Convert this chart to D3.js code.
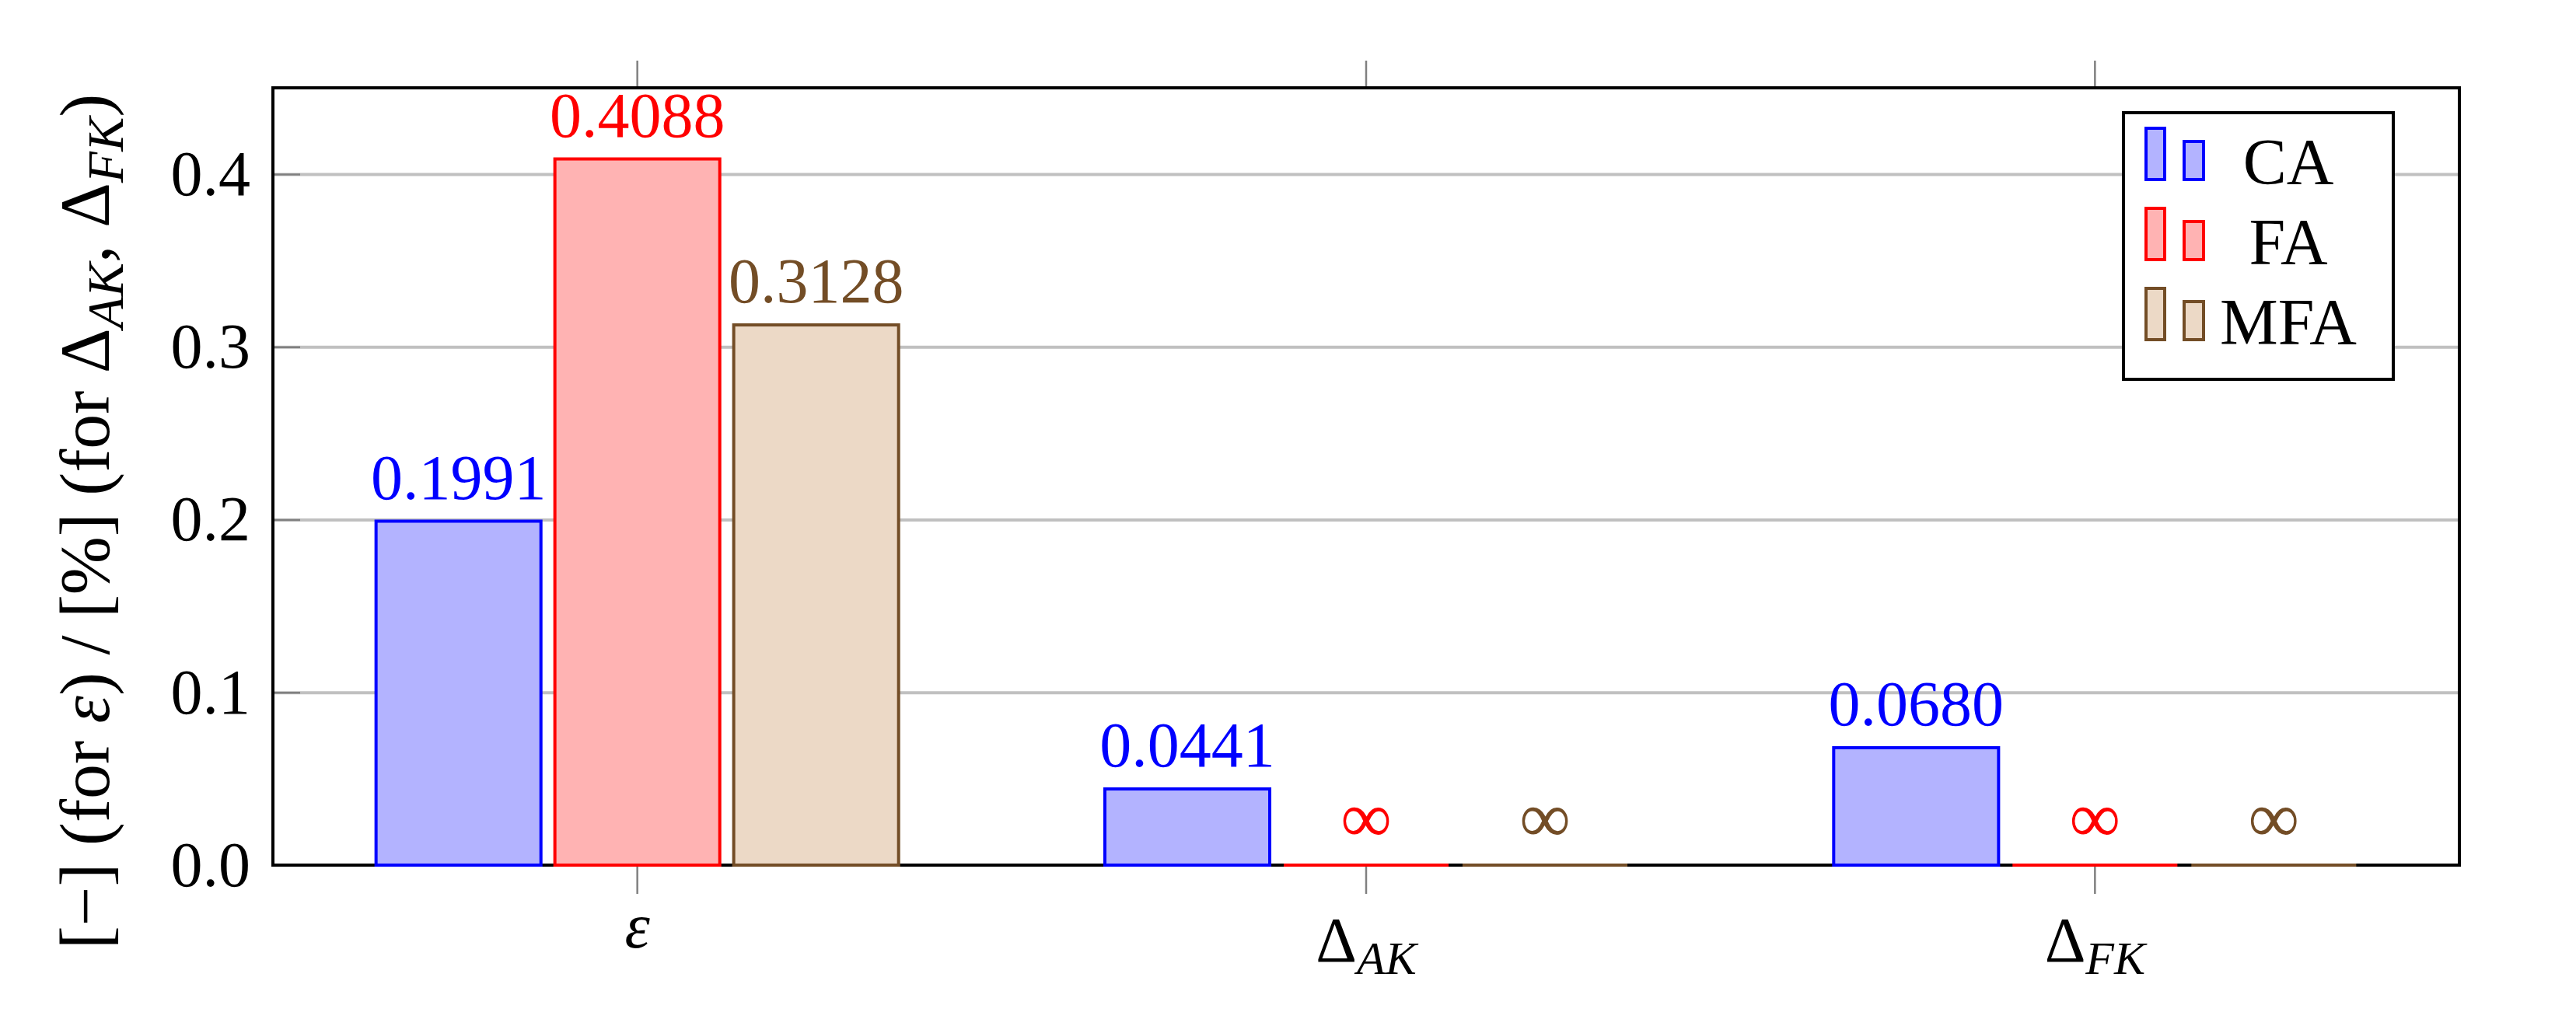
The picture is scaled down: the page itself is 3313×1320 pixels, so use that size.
<!DOCTYPE html>
<html>
<head>
<meta charset="utf-8">
<script src="https://cdn.jsdelivr.net/npm/d3@7"></script>
<style>
  html, body { margin: 0; padding: 0; background: #fff; }
  svg, svg text { font-family: "Liberation Serif", "DejaVu Serif", serif; }
</style>
</head>
<body>
<div id="chart"></div>
<script>
// data
const categories = ["ε", "Δ_AK", "Δ_FK"];
const series = ["CA", "FA", "MFA"];
const caValues = [0.1991, 0.0441, 0.0680];
const faValues = [0.4088, Infinity, Infinity];
const mfaValues = [0.3128, Infinity, Infinity];
const yTicks = [0.0, 0.1, 0.2, 0.3, 0.4];

const seriesValues = { CA: caValues, FA: faValues, MFA: mfaValues };
const strokeColors = { CA: "#0000ff", FA: "#ff0000", MFA: "#734d26" };
const fillColors = { CA: "#b3b3ff", FA: "#ffb3b3", MFA: "#ecd9c6" };

// 1. size and margins
const width = 3313;
const height = 1320;
const margin = { top: 113, right: 150, bottom: 207, left: 351 };
const fs = 82;
const serif = "Liberation Serif, serif";

const svg = d3.select("#chart")
    .append("svg")
    .attr("width", width)
    .attr("height", height)
    .attr("font-family", serif);

const plotW = width - margin.left - margin.right;
const plotH = height - margin.top - margin.bottom;

const g = svg.append("g")
    .attr("transform", `translate(${margin.left},${margin.top})`);

// 2. scales
const x0 = d3.scaleBand().domain(categories).range([0, plotW]);
const x1 = d3.scaleBand().domain(series).range([-345, 345])
    .paddingInner(0.078).paddingOuter(0.039);
const y = d3.scaleLinear().domain([0, 0.45]).range([plotH, 0]);
const cx = c => x0(c) + x0.bandwidth() / 2;

// 3. grid lines
g.append("g")
    .call(d3.axisLeft(y).tickValues(yTicks.filter(d => d > 0)).tickSize(-plotW).tickFormat(""))
    .call(s => s.select(".domain").remove())
    .call(s => s.selectAll("line").attr("stroke", "#c0c0c0").attr("stroke-width", 4));

// 4. y axis: inward ticks + labels
g.append("g")
    .call(d3.axisLeft(y).tickValues(yTicks).tickFormat(d3.format(".1f")).tickSize(-35).tickPadding(29))
    .attr("font-family", serif)
    .call(s => s.select(".domain").remove())
    .call(s => s.selectAll("line").attr("stroke", "#808080").attr("stroke-width", 2.5))
    .call(s => s.selectAll("text")
        .attr("fill", "#000")
        .style("font-size", fs + "px")
        .style("font-family", serif));

// 5. x axis ticks (outside, top and bottom)
g.append("g")
    .attr("transform", `translate(0,${plotH})`)
    .call(d3.axisBottom(x0).tickSize(37).tickFormat(""))
    .call(s => s.select(".domain").remove())
    .call(s => s.selectAll("line").attr("stroke", "#808080").attr("stroke-width", 2.5));

g.append("g")
    .call(d3.axisTop(x0).tickSize(35).tickFormat(""))
    .call(s => s.select(".domain").remove())
    .call(s => s.selectAll("line").attr("stroke", "#808080").attr("stroke-width", 2.5));

// x tick labels (with subscripts)
const xl = g.selectAll(".xlabel")
    .data(categories)
    .join("text")
    .attr("class", "xlabel")
    .attr("x", d => cx(d))
    .attr("y", d => d.includes("_") ? plotH + 124 : plotH + 106)
    .attr("text-anchor", "middle")
    .style("font-size", fs + "px");
xl.each(function (d) {
    const [main, sub] = d.split("_");
    const t = d3.select(this);
    t.append("tspan").text(main).style("font-style", sub ? "normal" : "italic");
    if (sub) {
        t.append("tspan").text(sub)
            .attr("dy", 16)
            .style("font-style", "italic")
            .style("font-size", "60px");
    }
});

// 6. axis box
g.append("rect")
    .attr("x", 0).attr("y", 0)
    .attr("width", plotW).attr("height", plotH)
    .attr("fill", "none")
    .attr("stroke", "#000")
    .attr("stroke-width", 4);

// 7. bars
const rows = [];
categories.forEach((c, i) => series.forEach(s => rows.push({ cat: c, s, v: seriesValues[s][i] })));

g.selectAll(".bar")
    .data(rows)
    .join("path")
    .attr("class", "bar")
    .attr("d", d => {
        const xa = cx(d.cat) + x1(d.s);
        const xb = xa + x1.bandwidth();
        const yv = isFinite(d.v) ? y(d.v) : y(0);
        return `M${xa},${y(0)}V${yv}H${xb}V${y(0)}Z`;
    })
    .attr("fill", d => fillColors[d.s])
    .attr("stroke", d => strokeColors[d.s])
    .attr("stroke-width", 4);

// bar value labels
g.selectAll(".bar-label")
    .data(rows)
    .join("text")
    .attr("class", "bar-label")
    .attr("x", d => cx(d.cat) + x1(d.s) + x1.bandwidth() / 2)
    .attr("y", d => isFinite(d.v) ? y(d.v) - 29 : y(0) - 30)
    .attr("text-anchor", "middle")
    .attr("fill", d => strokeColors[d.s])
    .style("font-size", d => isFinite(d.v) ? fs + "px" : "92px")
    .text(d => isFinite(d.v) ? d3.format(".4f")(d.v) : "∞");

// 8. y axis title
const yt = svg.append("text")
    .attr("transform", `translate(140,${margin.top + plotH / 2 + 58}) rotate(-90)`)
    .attr("text-anchor", "middle")
    .style("font-size", "90px");
const parts = [
    ["[−] (for ", null], ["ε", "it"], [") / [%] (for Δ", null], ["AK", "sub"],
    [", Δ", "back"], ["FK", "sub"], [")", "back"]
];
parts.forEach(([txt, kind]) => {
    const sp = yt.append("tspan").text(txt);
    if (kind === "it") sp.style("font-style", "italic");
    if (kind === "sub") sp.attr("dy", 18).style("font-style", "italic").style("font-size", "66px");
    if (kind === "back") sp.attr("dy", -18);
});

// 9. legend
const lg = svg.append("g").attr("transform", "translate(2731,145)");
lg.append("rect")
    .attr("width", 347).attr("height", 343)
    .attr("fill", "#fff")
    .attr("stroke", "#000")
    .attr("stroke-width", 4);

const item = lg.selectAll(".item")
    .data(series)
    .join("g")
    .attr("class", "item")
    .attr("transform", (d, i) => `translate(0,${i * 103})`);

item.append("rect")
    .attr("x", 29).attr("y", 20)
    .attr("width", 24).attr("height", 66)
    .attr("fill", d => fillColors[d])
    .attr("stroke", d => strokeColors[d])
    .attr("stroke-width", 4);
item.append("rect")
    .attr("x", 78).attr("y", 37)
    .attr("width", 25).attr("height", 49)
    .attr("fill", d => fillColors[d])
    .attr("stroke", d => strokeColors[d])
    .attr("stroke-width", 4);
item.append("text")
    .attr("x", 212).attr("y", 92)
    .attr("text-anchor", "middle")
    .style("font-size", "84px")
    .text(d => d);
</script>
</body>
</html>
